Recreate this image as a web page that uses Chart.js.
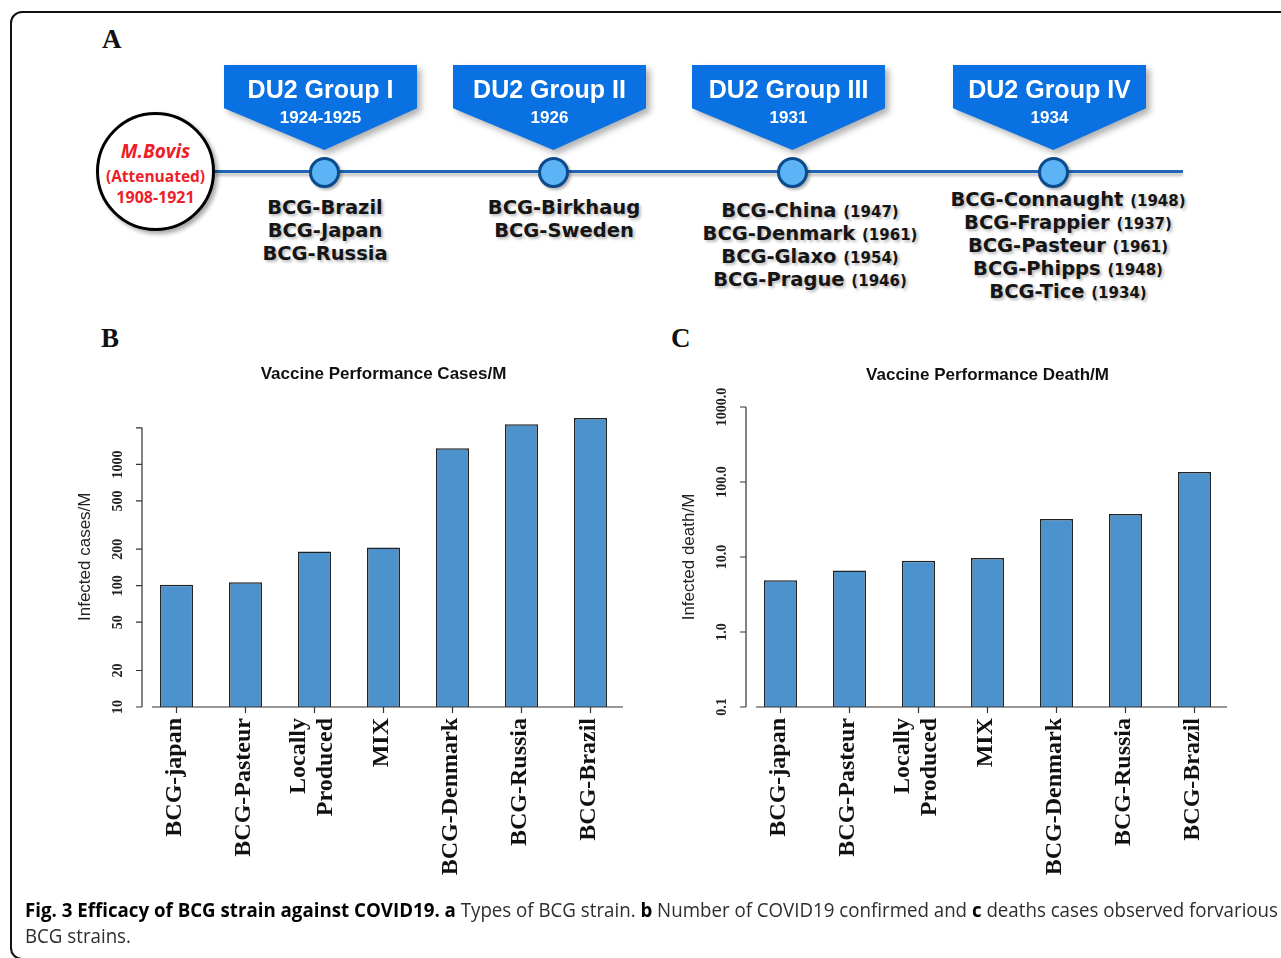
<!DOCTYPE html>
<html lang="en">
<head>
<meta charset="UTF-8">
<title>Efficacy of BCG strain against COVID19</title>
<script src="https://cdn.jsdelivr.net/npm/chart.js"></script>
<style>
    body {
        margin: 0;
        width: 1281px;
        height: 958px;
        overflow: hidden;
        background: #fff;
        position: relative;
        font-family: "Liberation Sans", Arial, sans-serif;
    }
    #frame {
        position: absolute;
        left: 10px;
        top: 11px;
        width: 1300px;
        height: 949px;
        box-sizing: border-box;
        border: 2px solid #111;
        border-radius: 12px;
    }
    .letter {
        position: absolute;
        font: bold 27px "Liberation Serif", serif;
        line-height: 30px;
        color: #111;
    }
    /* panel A */
    #timeline {
        position: absolute;
        left: 215px;
        width: 968px;
        top: 170px;
        height: 3px;
        background: #1f66b6;
        box-shadow: 0 3px 3px rgba(0, 0, 0, 0.25);
    }
    #origin {
        position: absolute;
        left: 96px;
        top: 112px;
        width: 119px;
        height: 119px;
        box-sizing: border-box;
        border: 3.5px solid #000;
        border-radius: 50%;
        background: #fff;
        box-shadow: 3px 3px 4px rgba(0, 0, 0, 0.35);
        color: #ee1d27;
        font-family: "Open Sans", sans-serif;
        font-weight: bold;
        text-align: center;
    }
    #origin div { position: absolute; left: -10px; right: -10px; white-space: nowrap; }
    .banner-wrap {
        position: absolute;
        top: 65px;
        width: 193px;
        height: 85px;
        filter: drop-shadow(4px 4px 3px rgba(0, 0, 0, 0.3));
    }
    .banner {
        width: 100%;
        height: 100%;
        background: #0a71e2;
        clip-path: polygon(0 0, 100% 0, 100% 51%, 52% 100%, 0 51%);
        color: #fff;
        text-align: center;
        font-weight: bold;
        position: relative;
    }
    .banner .g { position: absolute; left: 0; right: 0; top: 9px; font-size: 25px; line-height: 30px; }
    .banner .yr { position: absolute; left: 0; right: 0; top: 43px; font-size: 17px; line-height: 20px; }
    .node {
        position: absolute;
        top: 157px;
        width: 31px;
        height: 31px;
        box-sizing: border-box;
        border: 3px solid #0b4b8c;
        border-radius: 50%;
        background: #5cb4f6;
        box-shadow: 2px 2px 3px rgba(0, 0, 0, 0.3);
    }
    .strains {
        position: absolute;
        transform: translateX(-50%);
        text-align: center;
        white-space: nowrap;
        color: #151515;
        font: bold 19.5px "DejaVu Sans", sans-serif;
        text-shadow: 2px 2px 3px rgba(0, 0, 0, 0.28);
    }
    .strains div { height: 23px; line-height: 23px; }
    .strains span { font-size: 15px; line-height: 0; }
    canvas { position: absolute; }
    #caption {
        position: absolute;
        left: 25px;
        top: 897px;
        font: 20px "Open Sans", sans-serif;
        line-height: 26px;
        color: #2e2e2e;
        white-space: nowrap;
        transform-origin: 0 0;
    }
    #caption b { color: #000; }
</style>
</head>
<body>
<div id="frame"></div>
<div class="letter" style="left:102px; top:24px;">A</div>
<div class="letter" style="left:101px; top:323px;">B</div>
<div class="letter" style="left:671px; top:323px;">C</div>

<div id="panelA"></div>

<canvas id="casesChart" width="580" height="530" style="left:60px; top:355px;"></canvas>
<canvas id="deathsChart" width="600" height="530" style="left:660px; top:355px;"></canvas>

<div id="caption">
    <div id="cap1"><b>Fig. 3 Efficacy of BCG strain against COVID19. a</b> Types of BCG strain. <b>b</b> Number of COVID19 confirmed and <b>c</b> deaths cases observed forvarious</div>
    <div id="cap2">BCG strains.</div>
</div>

<script>
    // ----- data -----
    const strainLabels = ['BCG-japan', 'BCG-Pasteur', ['Locally', 'Produced'], 'MIX', 'BCG-Denmark', 'BCG-Russia', 'BCG-Brazil'];
    const casesPerM = [102, 107, 191, 206, 1355, 2140, 2415];
    const deathsPerM = [4.9, 6.6, 8.9, 9.7, 32, 37.5, 136];

    const casesTicks = [10, 20, 50, 100, 200, 500, 1000, 2000];
    const casesTickLabels = ['10', '20', '50', '100', '200', '500', '1000', ''];
    const deathsTicks = [0.1, 1, 10, 100, 1000];
    const deathsTickLabels = ['0.1', '1.0', '10.0', '100.0', '1000.0'];

    const groupNames = ['DU2 Group I', 'DU2 Group II', 'DU2 Group III', 'DU2 Group IV'];
    const groupYears = ['1924-1925', '1926', '1931', '1934'];
    const groupStrains = [
        [['BCG-Brazil', ''], ['BCG-Japan', ''], ['BCG-Russia', '']],
        [['BCG-Birkhaug', ''], ['BCG-Sweden', '']],
        [['BCG-China', '(1947)'], ['BCG-Denmark', '(1961)'], ['BCG-Glaxo', '(1954)'], ['BCG-Prague', '(1946)']],
        [['BCG-Connaught', '(1948)'], ['BCG-Frappier', '(1937)'], ['BCG-Pasteur', '(1961)'], ['BCG-Phipps', '(1948)'], ['BCG-Tice', '(1934)']]
    ];
    const originLines = ['M.Bovis', '(Attenuated)', '1908-1921'];

    // diagram layout (panel A)
    const nodeX = [324, 553, 792, 1053];
    const listX = [325, 564, 810, 1068];
    const listTop = [196, 196, 199, 188];

    // ----- panel A: timeline diagram -----
    const panelA = document.getElementById('panelA');
    let html = '<div id="timeline"></div>';
    html += '<div id="origin">' +
        '<div style="top:24px;font-size:19px;font-style:italic;line-height:24px;">' + originLines[0] + '</div>' +
        '<div style="top:51px;font-size:15.5px;line-height:20px;">' + originLines[1] + '</div>' +
        '<div style="top:72px;font-size:16px;line-height:20px;">' + originLines[2] + '</div></div>';
    groupNames.forEach((g, i) => {
        html += '<div class="banner-wrap" style="left:' + (nodeX[i] - 100) + 'px"><div class="banner">' +
            '<div class="g">' + g + '</div><div class="yr">' + groupYears[i] + '</div></div></div>';
        html += '<div class="node" style="left:' + (nodeX[i] - 15.5) + 'px"></div>';
        html += '<div class="strains" style="left:' + listX[i] + 'px; top:' + listTop[i] + 'px">' +
            groupStrains[i].map(s => '<div>' + s[0] + (s[1] ? ' <span>' + s[1] + '</span>' : '') + '</div>').join('') +
            '</div>';
    });
    panelA.innerHTML = html;

    // ----- R-style axes drawn from the chart scales -----
    const rAxes = {
        id: 'rAxes',
        afterDraw(chart) {
            const cfg = chart.options.plugins.rAxes;
            const ctx = chart.ctx;
            const a = chart.chartArea;
            const x = chart.scales.x;
            const y = chart.scales.y;
            const labels = chart.data.labels;
            ctx.save();
            ctx.strokeStyle = '#333';
            ctx.lineWidth = 1.2;
            ctx.fillStyle = '#222';

            ctx.beginPath();
            const yTop = y.getPixelForValue(cfg.ticks[cfg.ticks.length - 1]);
            const yBot = y.getPixelForValue(cfg.ticks[0]);
            ctx.moveTo(a.left, yTop);
            ctx.lineTo(a.left, yBot);
            cfg.ticks.forEach(t => {
                const py = y.getPixelForValue(t);
                ctx.moveTo(a.left - 6, py);
                ctx.lineTo(a.left, py);
            });
            ctx.moveTo(a.left + 10, a.bottom);
            ctx.lineTo(a.right - 2, a.bottom);
            labels.forEach((lab, i) => {
                const px = x.getPixelForValue(i);
                ctx.moveTo(px, a.bottom);
                ctx.lineTo(px, a.bottom + 6);
            });
            ctx.stroke();

            // y tick labels, rotated
            ctx.font = 'bold 14px "Liberation Serif"';
            ctx.textAlign = 'center';
            ctx.textBaseline = 'middle';
            cfg.ticks.forEach((t, i) => {
                ctx.save();
                ctx.translate(a.left - 24, y.getPixelForValue(t));
                ctx.rotate(-Math.PI / 2);
                ctx.fillText(cfg.tickLabels[i], 0, 0);
                ctx.restore();
            });

            // y axis title
            ctx.font = '17px "Liberation Sans"';
            ctx.save();
            ctx.translate(a.left - 57, (a.top + a.bottom) / 2);
            ctx.rotate(-Math.PI / 2);
            ctx.fillText(cfg.yTitle, 0, 0);
            ctx.restore();

            // main title
            ctx.fillStyle = '#111';
            ctx.font = 'bold 17px "Liberation Sans"';
            ctx.fillText(cfg.title, (a.left + a.right) / 2, a.top - 32);

            // category labels, rotated (las = 2)
            ctx.font = 'bold 24px "Liberation Serif"';
            ctx.textAlign = 'right';
            labels.forEach((lab, i) => {
                const lines = [].concat(lab);
                const px = x.getPixelForValue(i);
                lines.forEach((ln, j) => {
                    ctx.save();
                    ctx.translate(px - 2 + (j - (lines.length - 1) / 2) * 27, a.bottom + 11);
                    ctx.rotate(-Math.PI / 2);
                    ctx.fillText(ln, 0, 0);
                    ctx.restore();
                });
            });
            ctx.restore();
        }
    };

    function logBarChart(id, values, min, max, padding, axisCfg) {
        return new Chart(document.getElementById(id), {
            type: 'bar',
            data: {
                labels: strainLabels,
                datasets: [{
                    data: values,
                    backgroundColor: '#4c92cd',
                    borderColor: '#222',
                    borderWidth: 1.5,
                    barPercentage: 0.478,
                    categoryPercentage: 1
                }]
            },
            options: {
                responsive: false,
                animation: false,
                layout: { padding: padding },
                plugins: {
                    legend: { display: false },
                    tooltip: { enabled: false },
                    rAxes: axisCfg
                },
                scales: {
                    x: { display: false, ticks: { autoSkip: false } },
                    y: { type: 'logarithmic', display: false, min: min, max: max }
                }
            },
            plugins: [rAxes]
        });
    }

    logBarChart('casesChart', casesPerM, 10, 3000,
        { left: 82, top: 51.5, right: 15, bottom: 178 },
        { ticks: casesTicks, tickLabels: casesTickLabels, title: 'Vaccine Performance Cases/M', yTitle: 'Infected cases/M' });

    logBarChart('deathsChart', deathsPerM, 0.1, 1000,
        { left: 86, top: 52, right: 31, bottom: 178 },
        { ticks: deathsTicks, tickLabels: deathsTickLabels, title: 'Vaccine Performance Death/M', yTitle: 'Infected death/M' });

    // caption squeezed to the figure width, like the condensed journal font
    const cap = document.getElementById('caption');
    const k = 1253 / document.getElementById('cap1').scrollWidth;
    cap.style.transform = 'scaleX(' + k + ')';
</script>
</body>
</html>
